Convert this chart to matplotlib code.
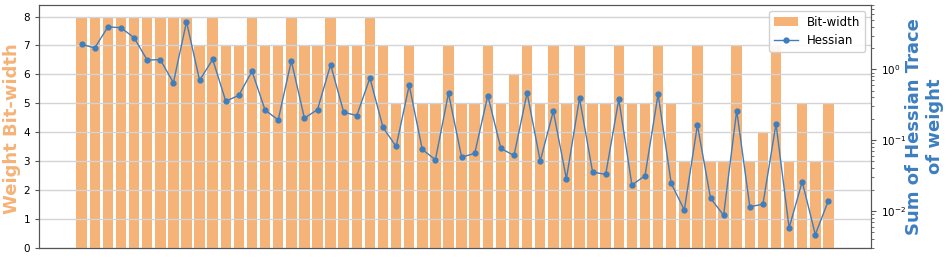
import numpy as np
import matplotlib
matplotlib.use("Agg")
import matplotlib.pyplot as plt

# bit-width assigned to each layer
bit_width = [8, 8, 8, 8, 8, 8, 8, 8, 8, 7,
             8, 7, 7, 8, 7, 7, 8, 7, 7, 8,
             7, 7, 8, 7, 5, 7, 5, 5, 7, 5,
             5, 7, 5, 6, 7, 5, 7, 5, 7, 5,
             5, 7, 5, 5, 7, 5, 3, 7, 3, 3,
             7, 3, 4, 7, 3, 5, 3, 5]

# sum of hessian trace per layer
hessian = [2.25, 2.0, 3.98, 3.86, 2.79, 1.35, 1.37, 0.647, 4.68, 0.70,
           1.38, 0.354, 0.43, 0.94, 0.265, 0.193, 1.32, 0.204, 0.27, 1.16,
           0.248, 0.222, 0.754, 0.151, 0.0813, 0.595, 0.0738, 0.0528, 0.459, 0.0576,
           0.0648, 0.425, 0.0762, 0.0607, 0.464, 0.0506, 0.256, 0.0285, 0.391, 0.0354,
           0.0328, 0.378, 0.0232, 0.0314, 0.445, 0.0245, 0.0103, 0.163, 0.0152, 0.00867,
           0.261, 0.0115, 0.0124, 0.170, 0.00577, 0.0259, 0.00464, 0.0140]

orange = '#f5b378'
blue = '#3d7ebf'

x = np.arange(len(bit_width))

fig = plt.figure(figsize=(9.51, 2.61), dpi=100)
ax = fig.add_subplot(111)
fig.subplots_adjust(left=0.041, right=0.916, bottom=0.05, top=0.981)

b = ax.bar(x, bit_width, width=0.8, color=orange, label='Bit-width')
ax.set_xlim(-3.26, 60.26)
ax.set_ylim(0, 8.4)
ax.set_yticks(range(9))
ax.set_xticks([])
ax.yaxis.grid(True, color='#d4d4d4', lw=1)
ax.tick_params(axis='y', labelsize=7.5, length=3, color='#555555')
for s in ax.spines.values():
    s.set_color('#555555')

ax2 = ax.twinx()
l, = ax2.plot(x, hessian, '-o', color=blue, lw=1, ms=3.5, label='Hessian')
ax2.set_yscale('log')
ax2.set_ylim(0.0030, 8.1)
ax2.tick_params(axis='y', which='both', labelsize=7.5, color='#555555')
for s in ax2.spines.values():
    s.set_color('#555555')

ax2.legend([b, l], ['Bit-width', 'Hessian'], loc='upper right', fontsize=8.5,
           framealpha=0.9)

fig.text(12 / 951, 1 - 128.5 / 261, 'Weight Bit-width', rotation=90,
         ha='center', va='center', fontsize=13, fontweight='bold', color=orange)
fig.text(924.5 / 951, 1 - 126.5 / 261, 'Sum of Hessian Trace\nof weight',
         rotation=90, ha='center', va='center', multialignment='center',
         fontsize=13, fontweight='bold', color=blue)

plt.savefig('out.png', dpi=100)
